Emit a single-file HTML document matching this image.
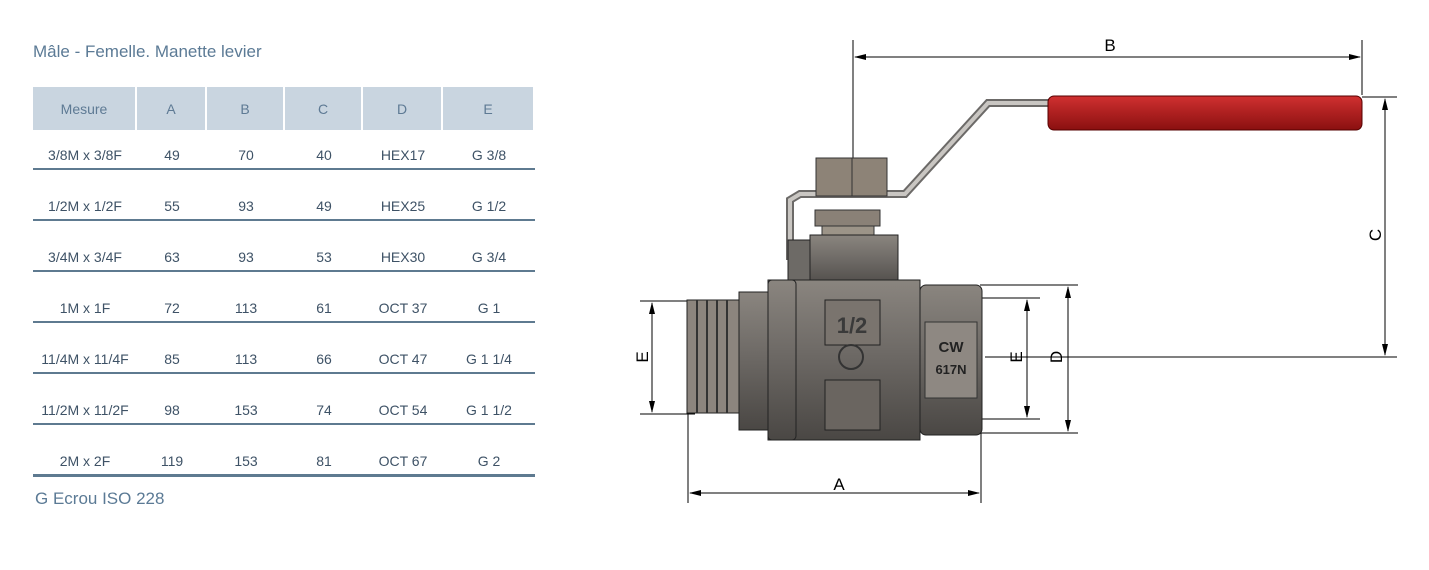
<!DOCTYPE html>
<html><head><meta charset="utf-8"><style>
body{margin:0;width:1429px;height:570px;background:#fff;position:relative;overflow:hidden;font-family:"Liberation Sans",sans-serif}
.t{position:absolute;color:#5b7a95;font-size:17px}
table{position:absolute;left:33px;top:87px;border-collapse:separate;border-spacing:0;table-layout:fixed;width:502px}
th{background:#c9d5e0;color:#5e7a94;font-weight:normal;font-size:14px;height:43px;border-right:2px solid #fff;padding:0;box-sizing:border-box}
td{color:#3e5266;font-size:14px;height:44px;text-align:center;border-bottom:2px solid #5e7a90;padding:0 0 5px 0;vertical-align:bottom;line-height:16px;white-space:nowrap}
tr.f td{height:33px}
tr.l td{border-bottom:3px solid #5e7a90}
</style></head><body>
<div class="t" style="left:33px;top:42px">Mâle - Femelle. Manette levier</div>
<table>
<colgroup><col style="width:104px"><col style="width:70px"><col style="width:78px"><col style="width:78px"><col style="width:80px"><col style="width:92px"></colgroup>
<tr><th>Mesure</th><th>A</th><th>B</th><th>C</th><th>D</th><th>E</th></tr>
<tr class="f"><td>3/8M x 3/8F</td><td>49</td><td>70</td><td>40</td><td>HEX17</td><td>G 3/8</td></tr>
<tr><td>1/2M x 1/2F</td><td>55</td><td>93</td><td>49</td><td>HEX25</td><td>G 1/2</td></tr>
<tr><td>3/4M x 3/4F</td><td>63</td><td>93</td><td>53</td><td>HEX30</td><td>G 3/4</td></tr>
<tr><td>1M x 1F</td><td>72</td><td>113</td><td>61</td><td>OCT 37</td><td>G 1</td></tr>
<tr><td>11/4M x 11/4F</td><td>85</td><td>113</td><td>66</td><td>OCT 47</td><td>G 1 1/4</td></tr>
<tr><td>11/2M x 11/2F</td><td>98</td><td>153</td><td>74</td><td>OCT 54</td><td>G 1 1/2</td></tr>
<tr class="l"><td>2M x 2F</td><td>119</td><td>153</td><td>81</td><td>OCT 67</td><td>G 2</td></tr>
</table>
<div class="t" style="left:35px;top:489px">G Ecrou ISO 228</div>
<svg style="position:absolute;left:0;top:0" width="1429" height="570">
<defs>
<linearGradient id="m" x1="0" y1="0" x2="0" y2="1"><stop offset="0" stop-color="#8a857f"/><stop offset=".45" stop-color="#6e6a66"/><stop offset="1" stop-color="#4a4744"/></linearGradient>
<linearGradient id="r" x1="0" y1="0" x2="0" y2="1"><stop offset="0" stop-color="#d03030"/><stop offset="1" stop-color="#8a1010"/></linearGradient>
<marker id="a" markerWidth="12" markerHeight="8" refX="11" refY="4" orient="auto-start-reverse"><path d="M0,1 L12,4 L0,7 Z" fill="#000"/></marker>
</defs>
<g stroke="#000" stroke-width="1" fill="none">
<line x1="853" y1="40" x2="853" y2="160"/><line x1="1362" y1="40" x2="1362" y2="95"/>
<line x1="855" y1="57" x2="1360" y2="57" marker-start="url(#a)" marker-end="url(#a)"/>
<line x1="1362" y1="97" x2="1397" y2="97"/><line x1="985" y1="357" x2="1397" y2="357"/>
<line x1="1385" y1="99" x2="1385" y2="355" marker-start="url(#a)" marker-end="url(#a)"/>
<line x1="980" y1="285" x2="1078" y2="285"/><line x1="980" y1="433" x2="1078" y2="433"/>
<line x1="1068" y1="287" x2="1068" y2="431" marker-start="url(#a)" marker-end="url(#a)"/>
<line x1="980" y1="298" x2="1040" y2="298"/><line x1="980" y1="419" x2="1040" y2="419"/>
<line x1="1027" y1="300" x2="1027" y2="417" marker-start="url(#a)" marker-end="url(#a)"/>
<line x1="640" y1="301" x2="695" y2="301"/><line x1="640" y1="414" x2="695" y2="414"/>
<line x1="652" y1="303" x2="652" y2="412" marker-start="url(#a)" marker-end="url(#a)"/>
<line x1="688" y1="414" x2="688" y2="503"/><line x1="981" y1="433" x2="981" y2="503"/>
<line x1="690" y1="493" x2="979" y2="493" marker-start="url(#a)" marker-end="url(#a)"/>
</g>
<polyline points="790,260 790,200 800,194 905,194 988,103 1050,103" fill="none" stroke="#6c6a68" stroke-width="8"/>
<polyline points="790,260 790,200 800,194 905,194 988,103 1050,103" fill="none" stroke="#c9c6c2" stroke-width="4"/>
<rect x="1048" y="96" width="314" height="34" rx="6" fill="url(#r)" stroke="#500" stroke-width="1"/>
<rect x="816" y="158" width="71" height="38" fill="#8d8377" stroke="#333"/>
<line x1="852" y1="158" x2="852" y2="196" stroke="#333"/>
<rect x="815" y="210" width="65" height="16" fill="#8a8177" stroke="#333"/>
<rect x="822" y="226" width="52" height="12" fill="#9c9488" stroke="#333"/>
<rect x="810" y="235" width="88" height="55" fill="url(#m)" stroke="#222"/>
<rect x="788" y="240" width="22" height="40" fill="#6d6a66" stroke="#222"/>
<rect x="687" y="300" width="52" height="113" fill="#8c857e" stroke="#222"/>
<g stroke="#333" stroke-width="2"><line x1="697" y1="300" x2="697" y2="413"/><line x1="707" y1="300" x2="707" y2="413"/><line x1="717" y1="300" x2="717" y2="413"/><line x1="727" y1="300" x2="727" y2="413"/></g>
<rect x="739" y="292" width="32" height="138" fill="url(#m)" stroke="#222"/>
<rect x="768" y="280" width="152" height="160" fill="url(#m)" stroke="#222"/>
<rect x="768" y="280" width="28" height="160" rx="4" fill="url(#m)" stroke="#222"/>
<rect x="825" y="300" width="55" height="45" fill="#7a746e" stroke="#222"/>
<text x="852" y="333" font-size="22" font-weight="bold" fill="#3a3a3a" text-anchor="middle" font-family="Liberation Sans,sans-serif">1/2</text>
<circle cx="851" cy="357" r="12" fill="none" stroke="#333" stroke-width="2"/>
<rect x="825" y="380" width="55" height="50" fill="#6a6560" stroke="#222"/>
<rect x="920" y="285" width="62" height="150" rx="6" fill="url(#m)" stroke="#222"/>
<rect x="925" y="322" width="52" height="76" fill="#8e8882" stroke="#333"/>
<text x="951" y="352" font-size="15" font-weight="bold" fill="#222" text-anchor="middle" font-family="Liberation Sans,sans-serif">CW</text>
<text x="951" y="374" font-size="13" font-weight="bold" fill="#222" text-anchor="middle" font-family="Liberation Sans,sans-serif">617N</text>
<g font-size="17" fill="#000" font-family="Liberation Sans,sans-serif" text-anchor="middle">
<text x="1110" y="51">B</text>
<text x="839" y="490">A</text>
<text transform="translate(1381,235) rotate(-90)">C</text>
<text transform="translate(1062,357) rotate(-90)">D</text>
<text transform="translate(1022,357) rotate(-90)">E</text>
<text transform="translate(648,357) rotate(-90)">E</text>
</g>
</svg>
</body></html>
